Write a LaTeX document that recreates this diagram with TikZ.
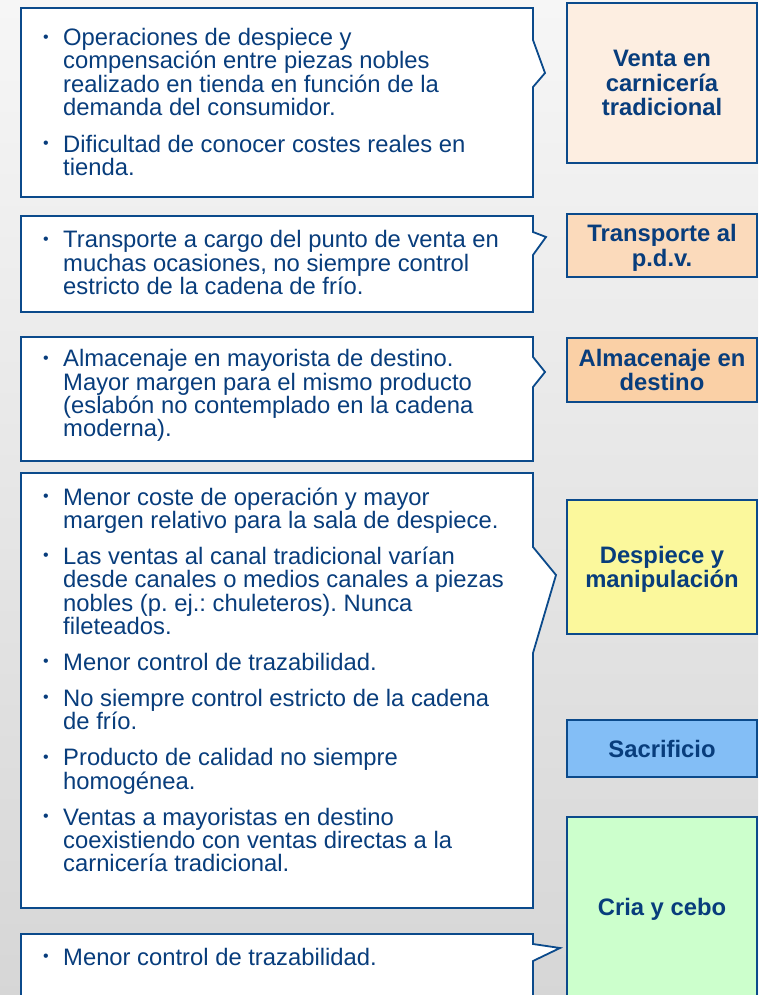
\documentclass[tikz,border=0pt]{standalone}
\usepackage{fontspec}
\setmainfont{Liberation Sans}

\definecolor{navy}{HTML}{0B4A8B}
\definecolor{ink}{HTML}{083D7C}
\definecolor{peachA}{HTML}{FDEEE1}
\definecolor{peachB}{HTML}{FBDABB}
\definecolor{peachC}{HTML}{FAD0A6}
\definecolor{lemon}{HTML}{FBF89C}
\definecolor{sky}{HTML}{83BEF6}
\definecolor{mint}{HTML}{CCFFCC}

% bullet (with a 22pt strut, so a note's top is 22pt above its first baseline)
\newcommand{\bul}{\rule{0pt}{22pt}\makebox[20pt][l]{\raisebox{3.6pt}{\fontsize{16}{16}\selectfont •}}}
\newcommand{\ind}{\hspace*{20pt}}
\lineskiplimit=-100pt
\frenchspacing

\tikzset{
  callout/.style={draw=navy, line width=1.8pt, fill=white, line join=miter},
  notes/.style={anchor=north west, align=left, inner sep=0pt, text=ink,
    font=\fontsize{23.8}{23.3}\selectfont},
  stage/.style={draw=navy, line width=1.8pt, minimum width=190pt, align=center,
    inner sep=0pt, text depth=0pt, text=ink, font=\fontsize{23.8}{24.7}\selectfont\bfseries},
}

\begin{document}
\begin{tikzpicture}[x=1pt, y=-1pt]
\useasboundingbox (0,0) rectangle (758,995);
\clip (0,0) rectangle (758,995);
\shade [top color=gray!7, bottom color=gray!32] (0,0) rectangle (758,995);

% callout outlines
\draw [callout] (21,8) -- (533,8) -- (533,40) -- (545,73) -- (533,87) -- (533,197) -- (21,197) -- cycle;
\draw [callout] (21,216) -- (533,216) -- (533,232) -- (546,237) -- (533,255) -- (533,312) -- (21,312) -- cycle;
\draw [callout] (21,337) -- (533,337) -- (533,357) -- (545,372) -- (533,387) -- (533,461) -- (21,461) -- cycle;
\draw [callout] (21,473) -- (533,473) -- (533,547) -- (556,575) -- (533,653) -- (533,908) -- (21,908) -- cycle;
\draw [callout] (21,934) -- (533,934) -- (533,944) -- (560,948) -- (533,961) -- (533,1010) -- (21,1010) -- cycle;

% notes (first baseline = y + 22)
\node [notes] (venta-notes) at (43,23.5) {\bul Operaciones de despiece y\\
  \ind compensación entre piezas nobles\\
  \ind realizado en tienda en función de la\\
  \ind demanda del consumidor.\\[13.5pt]
  \bul Dificultad de conocer costes reales en\\
  \ind tienda.};
\node [notes] (transporte-notes) at (43,225.5) {\bul Transporte a cargo del punto de venta en\\
  \ind muchas ocasiones, no siempre control\\
  \ind estricto de la cadena de frío.};
\node [notes] (almacen-notes) at (43,344.7) {\bul Almacenaje en mayorista de destino.\\
  \ind Mayor margen para el mismo producto\\
  \ind (eslabón no contemplado en la cadena\\
  \ind moderna).};
\node [notes] (despiece-notes) at (43,483) {\bul Menor coste de operación y mayor\\
  \ind margen relativo para la sala de despiece.\\[12.7pt]
  \bul Las ventas al canal tradicional varían\\
  \ind desde canales o medios canales a piezas\\
  \ind nobles (p. ej.: chuleteros). Nunca\\
  \ind fileteados.\\[12.7pt]
  \bul Menor control de trazabilidad.\\[12.7pt]
  \bul No siempre control estricto de la cadena\\
  \ind de frío.\\[12.7pt]
  \bul Producto de calidad no siempre\\
  \ind homogénea.\\[12.7pt]
  \bul Ventas a mayoristas en destino\\
  \ind coexistiendo con ventas directas a la\\
  \ind carnicería tradicional.};
\node [notes] (cria-notes) at (43,943) {\bul Menor control de trazabilidad.};

% stages of the chain
\node [stage, fill=peachA, minimum height=160pt] (venta) at (662,83) {Venta en\\carnicería\\tradicional};
\node [stage, fill=peachB, minimum height=63pt] (transporte) at (662,245.5) {Transporte al\\p.d.v.};
\node [stage, fill=peachC, minimum height=64pt] (almacen) at (662,370) {Almacenaje en\\destino};
\node [stage, fill=lemon, minimum height=134pt] (despiece) at (662,567) {Despiece y\\manipulación};
\node [stage, fill=sky, minimum height=57pt] (sacrificio) at (662,748.5) {Sacrificio};
\node [stage, fill=mint, minimum height=180pt] (cria) at (662,907) {Cria y cebo};
\end{tikzpicture}
\end{document}
